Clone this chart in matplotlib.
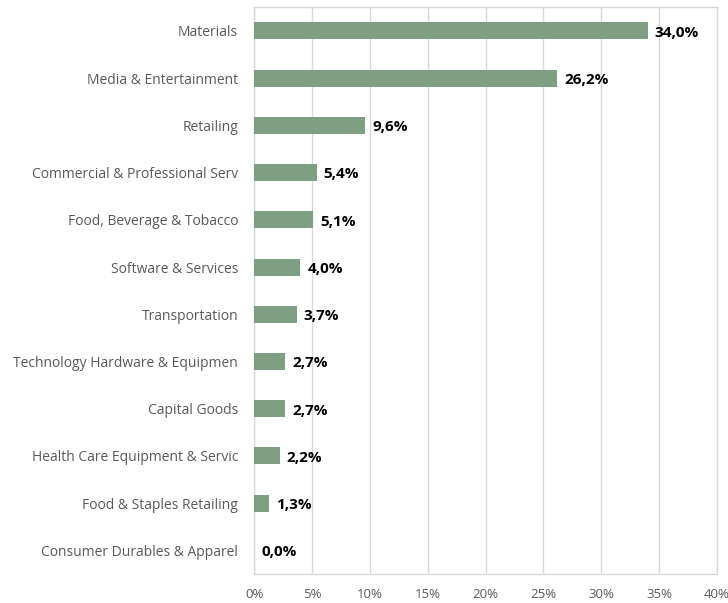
import matplotlib
matplotlib.use("Agg")
import matplotlib.pyplot as plt

categories = ["Materials", "Media & Entertainment", "Retailing", "Commercial & Professional Serv",
              "Food, Beverage & Tobacco", "Software & Services", "Transportation",
              "Technology Hardware & Equipmen", "Capital Goods", "Health Care Equipment & Servic",
              "Food & Staples Retailing", "Consumer Durables & Apparel"]
values = [34.0, 26.2, 9.6, 5.4, 5.1, 4.0, 3.7, 2.7, 2.7, 2.2, 1.3, 0.0]
xticks = [0, 5, 10, 15, 20, 25, 30, 35, 40]

plt.rcParams['font.family'] = ['Open Sans', 'DejaVu Sans']
fig = plt.figure(figsize=(7.28, 6.03), dpi=100)
ax = fig.add_axes([0.349, 0.048, 0.636, 0.940])

y = list(range(len(categories)))
ax.barh(y, values, height=0.36, color="#7f9f85", zorder=3)
for yi, v in zip(y, values):
    ax.text(v + 0.6, yi + 0.04, f"{v:.1f}%".replace(".", ","), va="center", ha="left",
            fontsize=11, fontweight="bold", color="black")

ax.set_ylim(11.5, -0.5)
ax.set_xlim(0, 40)
ax.set_xticks(xticks)
ax.set_xticklabels([f"{t}%" for t in xticks], fontsize=9.5, color="#595959")
ax.set_yticks(y)
ax.set_yticklabels(categories, fontsize=10, color="#595959")
ax.tick_params(length=0)
ax.tick_params(axis='y', pad=11.5)
ax.tick_params(axis='x', pad=10)
ax.grid(axis='x', color="#d9d9d9", linewidth=1, zorder=0)
for s in ax.spines.values():
    s.set_color("#d9d9d9")
    s.set_linewidth(1)

fig.savefig("out.png", dpi=100)
